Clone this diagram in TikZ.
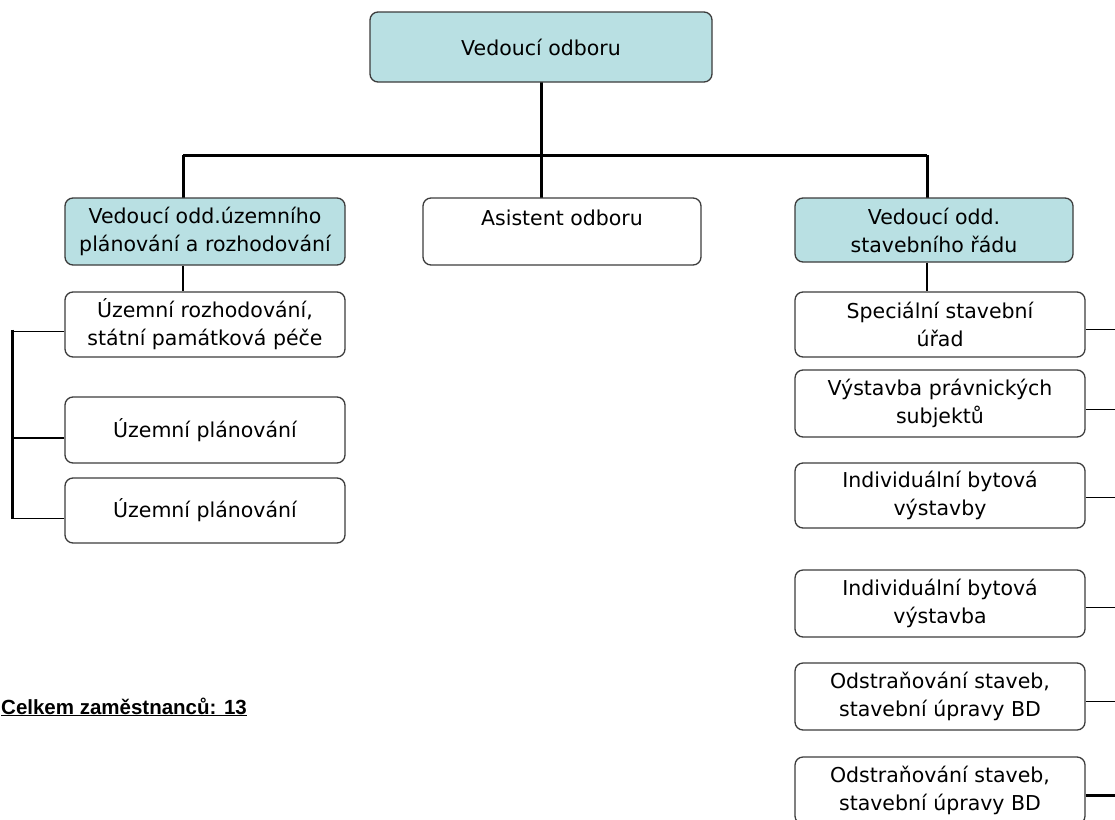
\documentclass[tikz,border=0pt]{standalone}
\usepackage{fontspec}
\setmainfont{DejaVu Sans}
\newfontfamily\boldarial{Liberation Sans}
\definecolor{headfill}{RGB}{185,224,227}
\definecolor{boxline}{RGB}{60,60,60}
\begin{document}
\begin{tikzpicture}[x=1pt,y=-1pt,
  box/.style={draw=boxline, line width=1.3pt, rounded corners=8pt, fill=white,
    align=center, inner sep=0pt, font=\fontsize{20.5}{28}\selectfont},
  head/.style={box, fill=headfill},
  thick line/.style={line width=3pt},
  thin line/.style={line width=1.5pt}]
\useasboundingbox (0,0) rectangle (1115,819);
\clip (0,0) rectangle (1115,819);
\fill[white] (0,0) rectangle (1115,819);
\coordinate (lbus) at (12,0);
\coordinate (rbus) at (1116,0);
% connectors
\draw[thick line] (183,155) -- (927,155);
\draw[thick line] (541,82) -- (541,155);
\draw[thick line] (183,155) -- (183,198);
\draw[thick line] (541,155) -- (541,198);
\draw[thick line] (927,155) -- (927,198);
% nodes
\node[head, minimum width=342pt, minimum height=70pt] (top) at (541,47) {Vedoucí odboru};
\node[head, minimum width=280pt, minimum height=67pt] (lh) at (205,231.5) {Vedoucí odd.územního\\plánování a rozhodování};
\node[box, minimum width=278pt, minimum height=67pt] (as) at (562,231.5) {Asistent odboru\\\phantom{X}};
\node[head, minimum width=278pt, minimum height=64pt] (rh) at (934,230) {Vedoucí odd.\\stavebního řádu};
\node[box, minimum width=280pt, minimum height=65pt] (l1) at (205,324.5) {Územní rozhodování,\\státní památková péče};
\node[box, minimum width=280pt, minimum height=66pt] (l2) at (205,430) {Územní plánování};
\node[box, minimum width=280pt, minimum height=65pt] (l3) at (205,510.5) {Územní plánování};
\node[box, minimum width=290pt, minimum height=65pt] (r1) at (940,324.5) {Speciální stavební\\úřad};
\node[box, minimum width=290pt, minimum height=67pt] (r2) at (940,403.5) {Výstavba právnických\\subjektů};
\node[box, minimum width=290pt, minimum height=65pt] (r3) at (940,495.5) {Individuální bytová\\výstavby};
\node[box, minimum width=290pt, minimum height=67pt] (r4) at (940,603.5) {Individuální bytová\\výstavba};
\node[box, minimum width=290pt, minimum height=67pt] (r5) at (940,696.5) {Odstraňování staveb,\\stavební úpravy BD};
\node[box, minimum width=290pt, minimum height=67pt] (r6) at (940,790.5) {Odstraňování staveb,\\stavební úpravy BD};
% lower connectors
\draw[thin line] (lh.south -| 183,0) -- (l1.north -| 183,0);
\draw[thin line] (rh.south -| 927,0) -- (r1.north -| 927,0);
\draw[thick line] ([yshift=-5pt]l1.west -| lbus) -- ([yshift=-8pt]l3.west -| lbus);
\draw[thin line] ([yshift=-7pt]l1.west) -- ([yshift=-7pt]l1.west -| lbus);
\draw[thin line] ([yshift=-8pt]l2.west) -- ([yshift=-8pt]l2.west -| lbus);
\draw[thin line] ([yshift=-8pt]l3.west) -- ([yshift=-8pt]l3.west -| lbus);
\draw[thin line] ([yshift=-5pt]r1.east) -- ([yshift=-5pt]r1.east -| rbus);
\draw[thin line] ([yshift=-6pt]r2.east) -- ([yshift=-6pt]r2.east -| rbus);
\draw[thin line] ([yshift=-2pt]r3.east) -- ([yshift=-2pt]r3.east -| rbus);
\draw[thin line] ([yshift=-4pt]r4.east) -- ([yshift=-4pt]r4.east -| rbus);
\draw[thin line] ([yshift=-5pt]r5.east) -- ([yshift=-5pt]r5.east -| rbus);
\draw[thick line] ([yshift=-5pt]r6.east) -- ([yshift=-5pt]r6.east -| rbus);
% total
\node[anchor=base west, inner sep=0pt, font=\boldarial\bfseries\fontsize{20.5}{22}\selectfont] (total) at (1,714) {\underline{Celkem zaměstnanců: 13}};
\end{tikzpicture}
\end{document}
